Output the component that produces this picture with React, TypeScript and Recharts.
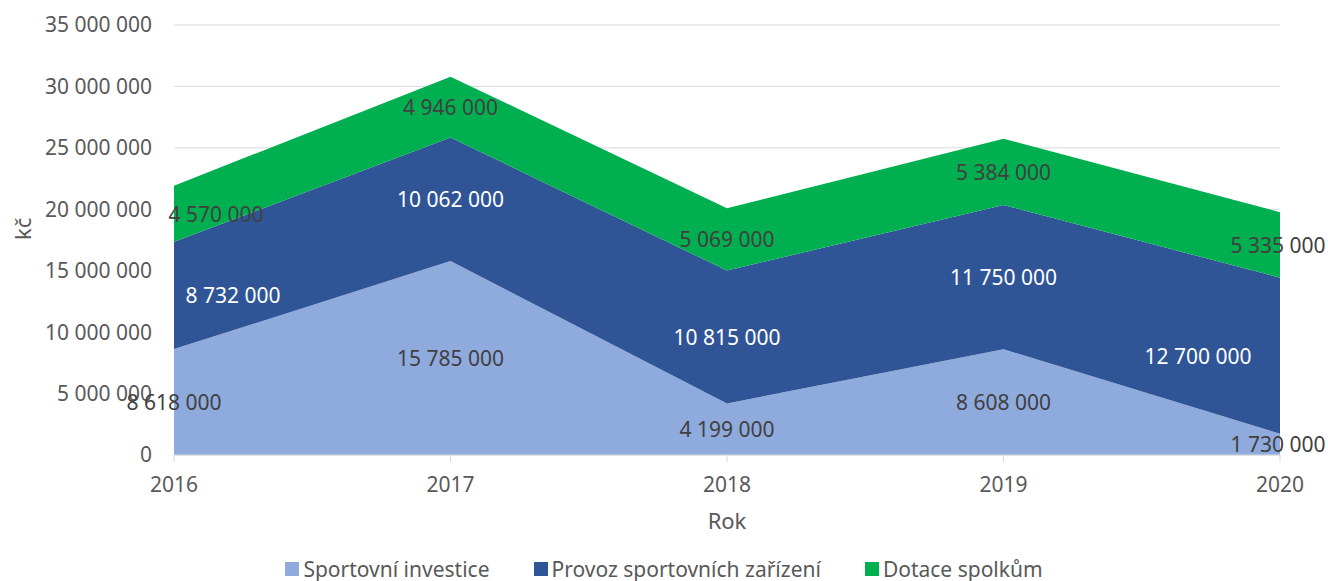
import { AreaChart, Area, Line, XAxis, YAxis, CartesianGrid, Legend, LabelList } from "recharts";

const years = ["2016", "2017", "2018", "2019", "2020"];
const investice = [8618000, 15785000, 4199000, 8608000, 1730000];
const provoz = [8732000, 10062000, 10815000, 11750000, 12700000];
const dotace = [4570000, 4946000, 5069000, 5384000, 5335000];
const yTicks = [0, 5000000, 10000000, 15000000, 20000000, 25000000, 30000000, 35000000];

const series = [
  { key: "investice", name: "Sportovní investice", color: "#8FAADC", text: "#404040" },
  { key: "provoz", name: "Provoz sportovních zařízení", color: "#2F5597", text: "#FFFFFF" },
  { key: "dotace", name: "Dotace spolkům", color: "#00B050", text: "#404040" },
];

// Excel nudges some edge labels sideways
const labelDx: Record<string, number[]> = {
  investice: [0, 0, 0, 0, -2],
  provoz: [59, 0, 0, 0, -82],
  dotace: [42, 0, 0, 0, -2],
};

const data = years.map((rok, i) => ({
  rok,
  investice: investice[i],
  provoz: provoz[i],
  dotace: dotace[i],
}));

const FONT = "'Noto Sans', sans-serif";
const fmt = (v: number) => String(v).replace(/\B(?=(\d{3})+(?!\d))/g, " ");

const makeLabel = (key: string, fill: string) => (p: any) => {
  const dx = labelDx[key][p.index] ?? 0;
  return (
    <text
      x={p.x + dx}
      y={p.y}
      textAnchor="middle"
      dominantBaseline="central"
      fill={fill}
      fontSize={21}
      fontFamily={FONT}
    >
      {fmt(p.value)}
    </text>
  );
};

const renderLegend = () => (
  <div
    style={{
      height: 46,
      display: "flex",
      justifyContent: "center",
      alignItems: "flex-end",
      fontFamily: FONT,
      fontSize: 21,
      color: "#595959",
      boxSizing: "border-box",
      paddingBottom: 0,
    }}
  >
    {series.map((s, i) => (
      <div key={s.key} style={{ display: "flex", alignItems: "center", marginLeft: i ? 44 : 0, lineHeight: "24px" }}>
        <span style={{ width: 14, height: 14, background: s.color, display: "inline-block", marginRight: 4 }} />
        <span>{s.name}</span>
      </div>
    ))}
  </div>
);

export default function App() {
  return (
    <div style={{ position: "absolute", left: 0, top: 0, width: 1328, height: 581, background: "#fff" }}>
      <AreaChart width={1328} height={581} data={data} margin={{ top: 25, right: 48, left: 0, bottom: 0 }}>
        <CartesianGrid vertical={false} stroke="#D9D9D9" />
        <XAxis
          dataKey="rok"
          height={80}
          stroke="#D9D9D9"
          tickSize={7}
          tickMargin={15}
          tick={{ fill: "#595959", fontSize: 21, fontFamily: FONT }}
          label={{ value: "Rok", position: "insideBottom", offset: 6, fill: "#595959", fontSize: 22, fontFamily: FONT }}
        />
        <YAxis
          width={174}
          domain={[0, 35000000]}
          ticks={yTicks}
          interval={0}
          axisLine={false}
          tickLine={false}
          tickSize={0}
          tickMargin={22}
          tickFormatter={fmt}
          tick={{ fill: "#595959", fontSize: 21, fontFamily: FONT }}
          label={{ value: "kč", angle: -90, position: "insideLeft", offset: 23, fill: "#595959", fontSize: 22, fontFamily: FONT }}
        />
        <Legend verticalAlign="bottom" content={renderLegend} wrapperStyle={{ left: 0, width: 1328, bottom: 0 }} />
        {series.map((s) => (
          <Area
            key={s.key}
            type="linear"
            dataKey={s.key}
            name={s.name}
            stackId="a"
            fill={s.color}
            fillOpacity={1}
            stroke="none"
            isAnimationActive={false}
          />
        ))}
        <Line
          dataKey={(d: any) => d.investice / 2}
          stroke="none"
          dot={false}
          activeDot={false}
          legendType="none"
          isAnimationActive={false}
        >
          <LabelList dataKey="investice" content={makeLabel("investice", series[0].text)} />
        </Line>
        <Line
          dataKey={(d: any) => d.investice + d.provoz / 2}
          stroke="none"
          dot={false}
          activeDot={false}
          legendType="none"
          isAnimationActive={false}
        >
          <LabelList dataKey="provoz" content={makeLabel("provoz", series[1].text)} />
        </Line>
        <Line
          dataKey={(d: any) => d.investice + d.provoz + d.dotace / 2}
          stroke="none"
          dot={false}
          activeDot={false}
          legendType="none"
          isAnimationActive={false}
        >
          <LabelList dataKey="dotace" content={makeLabel("dotace", series[2].text)} />
        </Line>
      </AreaChart>
    </div>
  );
}
